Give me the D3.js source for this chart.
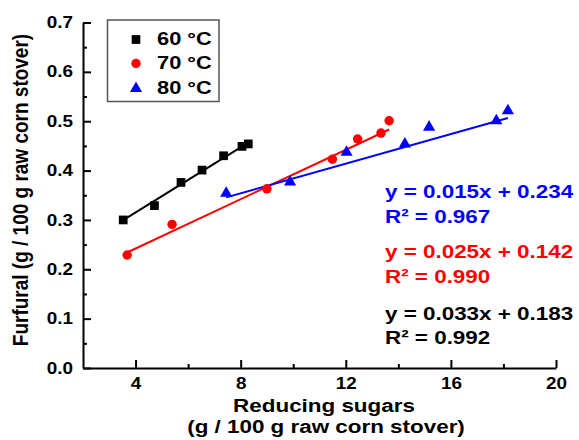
<!DOCTYPE html>
<html>
<head>
<meta charset="utf-8">
<script src="https://cdn.jsdelivr.net/npm/d3@7"></script>
<style>
  html, body { margin: 0; padding: 0; background: #fff; }
  svg { display: block; font-family: "Liberation Sans", Arial, sans-serif; font-weight: bold; }
</style>
</head>
<body>
<div id="chart"></div>
<script>
// Series
const seriesNames = ["60 °C", "70 °C", "80 °C"];
const seriesColors = ["#000000", "#ff0000", "#0000ff"];

const sugar60 = [3.53, 4.72, 5.73, 6.53, 7.35, 8.05, 8.29];
const furfural60 = [0.300, 0.329, 0.376, 0.401, 0.430, 0.449, 0.454];

const sugar70 = [3.68, 5.39, 9.00, 11.49, 12.45, 13.34, 13.65];
const furfural70 = [0.229, 0.291, 0.363, 0.423, 0.464, 0.476, 0.501];

const sugar80 = [7.45, 9.88, 12.03, 14.25, 15.17, 17.73, 18.17];
const furfural80 = [0.354, 0.377, 0.437, 0.454, 0.488, 0.501, 0.521];

// Linear fits printed on the chart
const slopes = [0.033, 0.025, 0.015];
const intercepts = [0.183, 0.142, 0.234];
const r2 = ["0.992", "0.990", "0.967"];

const xTicks = [4, 8, 12, 16, 20];
const xMinor = [6, 10, 14, 18];
const yTicks = [0.0, 0.1, 0.2, 0.3, 0.4, 0.5, 0.6, 0.7];
const yMinor = [0.05, 0.15, 0.25, 0.35, 0.45, 0.55, 0.65];

const W = 579, H = 440;
const SX = 1.18; // glyphs in the picture are a bit wide

const svg = d3.select("#chart").append("svg")
    .attr("width", W).attr("height", H);

const x = d3.scaleLinear().domain([2, 20]).range([83, 556]);
const y = d3.scaleLinear().domain([0, 0.7]).range([368, 22.5]);

const series = [
    { sx: sugar60, sy: furfural60, shape: d3.symbolSquare, size: 76 },
    { sx: sugar70, sy: furfural70, shape: d3.symbolCircle, size: 70 },
    { sx: sugar80, sy: furfural80, shape: d3.symbolTriangle, size: 64 }
].map((s, i) => ({
    ...s,
    name: seriesNames[i],
    color: seriesColors[i],
    slope: slopes[i],
    intercept: intercepts[i],
    r2: r2[i],
    points: s.sx.map((v, j) => ({ x: v, y: s.sy[j] }))
}));

// stretched text helper
function label(g, px, py, txt, opts) {
    opts = opts || {};
    const t = g.append("text")
        .attr("transform", `translate(${px},${py})` + (opts.rotate ? " rotate(-90) scale(1," + SX + ")" : ` scale(${SX},1)`))
        .attr("text-anchor", opts.anchor || "start")
        .attr("font-size", (opts.size || 19) + "px")
        .attr("fill", opts.fill || "#000");
    t.text(txt);
    return t;
}

function fixTickText(sel) {
    sel.selectAll("text").each(function () {
        const t = d3.select(this);
        const tx = +t.attr("x") || 0;
        t.attr("x", tx / SX).attr("transform", `scale(${SX},1)`)
            .attr("font-size", "16px")
            .attr("font-weight", "bold")
            .attr("font-family", "Liberation Sans, Arial, sans-serif")
            .attr("fill", "#000");
    });
}

// Axes (ticks point inward)
const xAxis = svg.append("g")
    .attr("transform", `translate(0,${y(0)})`)
    .call(d3.axisBottom(x).tickValues(xTicks).tickSizeInner(-8).tickSizeOuter(0).tickPadding(10).tickFormat(d3.format("d")));
xAxis.select(".domain").attr("stroke-width", 2);
xAxis.selectAll(".tick line").attr("stroke-width", 2);
fixTickText(xAxis);

svg.append("g")
    .attr("transform", `translate(0,${y(0)})`)
    .call(d3.axisBottom(x).tickValues(xMinor).tickSizeInner(-4).tickSizeOuter(0).tickFormat(""))
    .call(g => g.select(".domain").remove())
    .selectAll(".tick line").attr("stroke-width", 2);

const yAxis = svg.append("g")
    .attr("transform", `translate(${x(2)},0)`)
    .call(d3.axisLeft(y).tickValues(yTicks).tickSizeInner(-8).tickSizeOuter(0).tickPadding(10).tickFormat(d3.format(".1f")));
yAxis.select(".domain").attr("stroke-width", 2);
yAxis.selectAll(".tick line").attr("stroke-width", 2);
fixTickText(yAxis);

svg.append("g")
    .attr("transform", `translate(${x(2)},0)`)
    .call(d3.axisLeft(y).tickValues(yMinor).tickSizeInner(-4).tickSizeOuter(0).tickFormat(""))
    .call(g => g.select(".domain").remove())
    .selectAll(".tick line").attr("stroke-width", 2);

// Fit lines
series.forEach(s => {
    const [x0, x1] = d3.extent(s.sx);
    svg.append("line")
        .attr("x1", x(x0)).attr("y1", y(s.slope * x0 + s.intercept))
        .attr("x2", x(x1)).attr("y2", y(s.slope * x1 + s.intercept))
        .attr("stroke", s.color)
        .attr("stroke-width", 2);
});

// Markers
series.forEach(s => {
    svg.append("g").selectAll("path")
        .data(s.points)
        .enter()
        .append("path")
        .attr("transform", d => `translate(${x(d.x)},${y(d.y)})`)
        .attr("d", d3.symbol().type(s.shape).size(s.size))
        .attr("fill", s.color);
});

// Legend
const legend = svg.append("g");
legend.append("rect")
    .attr("x", 107.5).attr("y", 20)
    .attr("width", 111.5).attr("height", 81.5)
    .attr("fill", "#fff")
    .attr("stroke", "#555")
    .attr("stroke-width", 1.5);
const legendRows = [39.5, 63.5, 88.5];
series.forEach((s, i) => {
    legend.append("path")
        .attr("transform", `translate(136,${legendRows[i]})`)
        .attr("d", d3.symbol().type(s.shape).size(s.size))
        .attr("fill", s.color);
    label(legend, 157, legendRows[i] + 5.5, s.name, { size: 18.5 });
});

// Equations
const eqRows = [[198, 223], [258, 283], [320, 344]];
[2, 1, 0].forEach((si, k) => {
    const s = series[si];
    label(svg, 385, eqRows[k][0], `y = ${s.slope.toFixed(3)}x + ${s.intercept.toFixed(3)}`, { size: 19, fill: s.color });
    label(svg, 385, eqRows[k][1], `R² = ${s.r2}`, { size: 19, fill: s.color });
});

// Axis titles
label(svg, 324, 411.5, "Reducing sugars", { anchor: "middle", size: 19 });
label(svg, 326, 433, "(g / 100 g raw corn stover)", { anchor: "middle", size: 19 });
label(svg, 28, 190, "Furfural (g / 100 g raw corn stover)", { anchor: "middle", size: 19, rotate: true });
</script>
</body>
</html>
